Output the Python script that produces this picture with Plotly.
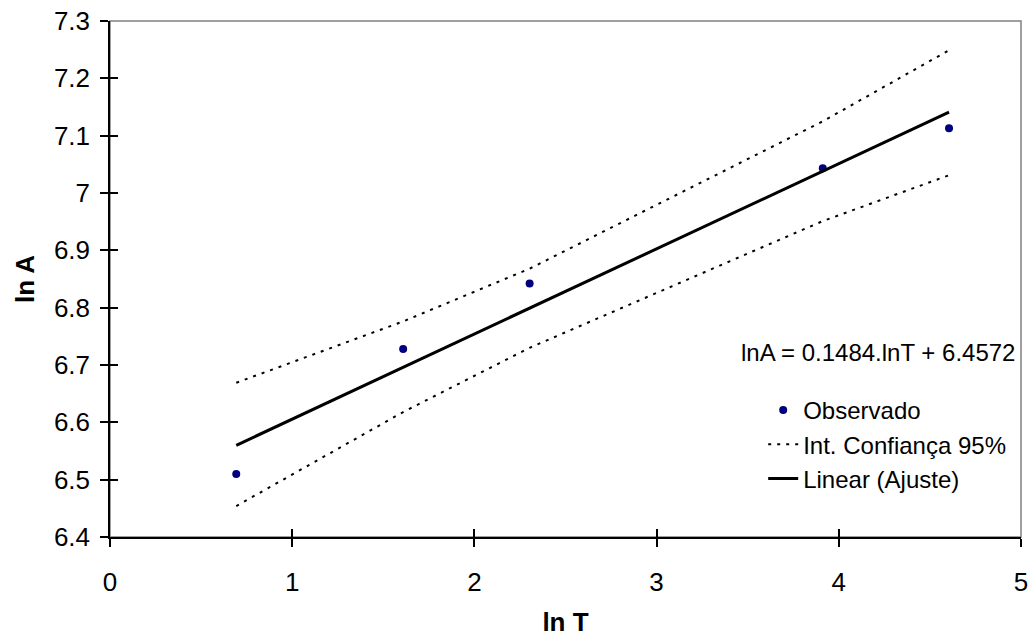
import plotly.graph_objects as go

# ln T values (x) and observations
ln_t = [0.693, 1.609, 2.303, 3.912, 4.605]
ln_a_obs = [6.510, 6.728, 6.842, 7.043, 7.113]
ci_upper = [6.669, 6.776, 6.868, 7.125, 7.249]
ci_lower = [6.454, 6.618, 6.730, 6.951, 7.031]
fit_vals = [6.560, 6.696, 6.799, 7.038, 7.141]

x_ticks = [0, 1, 2, 3, 4, 5]
y_ticks = [6.4, 6.5, 6.6, 6.7, 6.8, 6.9, 7.0, 7.1, 7.2, 7.3]
y_tick_text = ["6.4", "6.5", "6.6", "6.7", "6.8", "6.9", "7", "7.1", "7.2", "7.3"]

FONT = "Liberation Sans, Arial, sans-serif"

fig = go.Figure()
fig.add_trace(go.Scatter(x=ln_t, y=ln_a_obs, mode="markers", name="Observado",
                         marker=dict(color="#000080", size=8, line=dict(width=0))))
fig.add_trace(go.Scatter(x=ln_t, y=ci_upper, mode="lines", name="Int. Confiança 95%",
                         legendgroup="ci",
                         line=dict(color="black", width=2, dash="3px,6px")))
fig.add_trace(go.Scatter(x=ln_t, y=ci_lower, mode="lines", name="Int. Confiança 95%",
                         legendgroup="ci", showlegend=False,
                         line=dict(color="black", width=2, dash="3px,6px")))
fig.add_trace(go.Scatter(x=[ln_t[0], ln_t[-1]], y=[fit_vals[0], fit_vals[-1]], mode="lines",
                         name="Linear (Ajuste)", line=dict(color="black", width=3)))
# dummy trace for inside-tick overlay axes
fig.add_trace(go.Scatter(x=[None], y=[None], xaxis="x2", yaxis="y2", showlegend=False,
                         hoverinfo="skip"))

axis_common = dict(showgrid=False, zeroline=False, linecolor="black", linewidth=1.5,
                   showline=True, ticks="outside", ticklen=8, tickwidth=1.5, tickcolor="black",
                   automargin=False,
                   tickfont=dict(family=FONT, size=26, color="black"))

fig.update_layout(
    width=1033, height=637,
    margin=dict(l=110, r=12, t=21, b=100),
    paper_bgcolor="white", plot_bgcolor="white",
    font=dict(family=FONT, size=24, color="black"),
    xaxis=dict(range=[0, 5], tickvals=x_ticks, ticktext=[str(v) for v in x_ticks],
               title=dict(text="<b>ln T</b>", font=dict(size=26), standoff=28),
               ticklabelstandoff=13, **axis_common),
    yaxis=dict(range=[6.4, 7.3], tickvals=y_ticks, ticktext=y_tick_text,
               title=dict(text="<b>ln A</b>", font=dict(size=26), standoff=12),
               ticklabelstandoff=5, **axis_common),
    xaxis2=dict(range=[0, 5], overlaying="x", anchor="y2", side="bottom", showgrid=False,
                zeroline=False, showline=False, ticks="inside", ticklen=8, tickwidth=1.5,
                tickcolor="black", tickvals=x_ticks, showticklabels=False, automargin=False),
    yaxis2=dict(range=[6.4, 7.3], overlaying="y", anchor="x2", side="left", showgrid=False,
                zeroline=False, showline=False, ticks="inside", ticklen=8, tickwidth=1.5,
                tickcolor="black", tickvals=y_ticks, showticklabels=False, automargin=False),
    legend=dict(x=0.717, y=0.289, xanchor="left", yanchor="top", bgcolor="rgba(0,0,0,0)",
                font=dict(family=FONT, size=24), tracegroupgap=0, itemwidth=30),
    showlegend=True,
    shapes=[dict(type="rect", xref="paper", yref="paper", x0=0, x1=1, y0=0, y1=1,
                 line=dict(color="#808080", width=1.5), layer="below")],
    annotations=[dict(text="lnA = 0.1484.lnT + 6.4572", xref="paper", yref="paper",
                      x=0.690, y=0.3566, xanchor="left", yanchor="middle", showarrow=False,
                      font=dict(family=FONT, size=24, color="black"))],
)

fig.write_html("out.html", config={"displayModeBar": False},
               post_script="document.body.style.margin='0';document.body.style.overflow='hidden';")
